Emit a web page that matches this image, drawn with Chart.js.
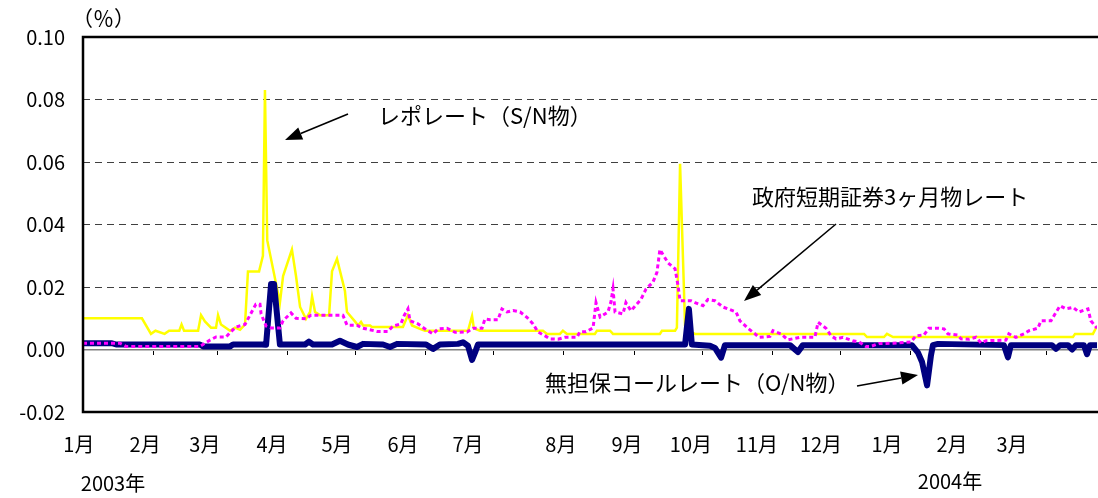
<!DOCTYPE html>
<html><head><meta charset="utf-8">
<script src="https://cdn.jsdelivr.net/npm/chart.js@4.4.1/dist/chart.umd.min.js"></script>
<style>html,body{margin:0;padding:0;background:#fff;}canvas{display:block;}</style>
</head><body>
<canvas id="c" width="1098" height="498"></canvas>
<script>
// ---- data (x = days since 2003-01-01, y = %) ----
const repoDays = [0,26,30,32,36,38,42.5,43.5,44.6,50.8,52.1,53.8,56.5,58.7,59.6,60.9,64.9,67.1,69.3,71.5,72.8,77.7,79.4,80.3,81.3,86.9,88.3,92.2,94.0,95.8,98.4,100.2,101.1,102.4,104.6,108.6,109.9,112.1,115.6,116.5,120.0,121.4,122.7,123.6,126.7,127.5,141.2,143.4,145.2,148.7,150.9,169.9,171.7,172.5,175.2,203.0,204.8,210.5,211.8,213.6,225.9,226.8,232.6,233.9,254.6,255.5,261.3,262.1,263.5,265.7,267.0,270.1,344.7,346.0,353.5,354.8,357.5,436.9,437.8,445.7,447.5];
const repoRate = [0.010,0.010,0.005,0.006,0.005,0.006,0.006,0.008,0.006,0.006,0.011,0.009,0.007,0.007,0.011,0.008,0.006,0.007,0.0063,0.008,0.025,0.025,0.030,0.083,0.035,0.015,0.0235,0.032,0.0235,0.0136,0.0098,0.012,0.017,0.012,0.011,0.011,0.025,0.029,0.0187,0.012,0.009,0.0077,0.0088,0.0077,0.0077,0.0072,0.0072,0.011,0.0077,0.0066,0.006,0.006,0.0107,0.0068,0.006,0.006,0.005,0.005,0.006,0.005,0.005,0.006,0.006,0.005,0.005,0.006,0.006,0.007,0.0594,0.0076,0.006,0.005,0.005,0.004,0.004,0.005,0.004,0.004,0.005,0.005,0.0075];

const callDays = [0,12.8,14.6,51.6,53,64.9,66.2,79,80.8,83,84.3,86.9,98,99.7,101.5,109.9,113.4,116.9,120.9,123.6,132.4,135.5,138.6,151.4,154.5,157.5,165.5,167.7,169.9,171.7,173,174.3,265.7,267.4,268.7,276.7,278.9,281.6,283.3,312,315.5,317.7,365.8,368.5,370.3,372.5,374.2,375.1,377.3,406.4,408.2,409.5,427.6,429.4,431.2,434.7,436.5,438.2,441.7,443.1,444.4,447.5];
const callRate = [0.002,0.002,0.0016,0.0016,0.001,0.001,0.0016,0.0016,0.0015,0.021,0.021,0.0016,0.0016,0.0025,0.0016,0.0016,0.0028,0.0016,0.0008,0.0018,0.0016,0.0008,0.0018,0.0016,0.0002,0.0016,0.0018,0.0023,0.0012,-0.0033,-0.001,0.0016,0.0016,0.013,0.0016,0.0012,0.0005,-0.0026,0.0014,0.0014,-0.0008,0.0014,0.0014,-0.001,-0.004,-0.0115,-0.002,0.0014,0.0018,0.0014,-0.0025,0.0014,0.0014,0.0002,0.0014,0.0014,0.0,0.0014,0.0014,-0.0015,0.0014,0.0014];

const fbDays = [0,16.3,19,51.6,56,58.7,63.1,65.3,67.5,71.5,73.7,76.3,78.1,78.6,80.8,83,86.9,88.3,91.8,94,98.4,100.6,114.7,116.5,120.9,123.1,129.7,134.6,136.8,140.3,141.7,143.4,144.3,147.8,150.9,154.5,156.7,160.6,164.2,169.5,172.1,176.1,177.4,179.6,183.1,184.9,187.1,189.8,192.9,195.9,198.6,200.8,204.3,206.1,209.6,212.7,218,219.3,222,225.1,226.4,228.2,231.7,233,233.9,234.8,238.3,239.6,241.8,244,246.2,248.5,251.5,253.3,254.6,258.2,261.3,262.6,263.5,268.3,270.1,273.6,275.8,278.9,282.4,284.6,288.2,289.9,293.4,296.6,298.3,303.2,304.5,308,311.1,316.4,323,324.4,327.9,330.1,332.3,335.4,339.8,342.5,345.5,347.7,351.3,357.5,365.4,367.6,371.1,373.3,377.7,380,381.7,386.1,387.5,391,394.1,396.3,398.5,407.3,408.6,411.7,415.3,417.5,421.4,422.8,427.2,429.4,431.2,433.8,436.9,439.5,443.5,444.8,447.5];
const fbRate = [0.002,0.002,0.001,0.001,0.003,0.004,0.004,0.0057,0.0072,0.008,0.011,0.0145,0.0145,0.0114,0.0075,0.0069,0.0069,0.0092,0.0117,0.010,0.0098,0.011,0.011,0.0078,0.0078,0.0069,0.0058,0.0058,0.0075,0.0082,0.0108,0.013,0.0092,0.0082,0.0066,0.005,0.0066,0.0068,0.0055,0.0056,0.0068,0.0068,0.0098,0.0095,0.0095,0.013,0.012,0.0125,0.012,0.0103,0.0082,0.0056,0.0042,0.0034,0.0033,0.0039,0.0039,0.0057,0.0057,0.0069,0.015,0.0104,0.012,0.0153,0.0194,0.012,0.0114,0.015,0.0124,0.0142,0.016,0.0194,0.0215,0.0247,0.032,0.0277,0.0258,0.0204,0.0156,0.0156,0.015,0.014,0.016,0.0156,0.0136,0.013,0.012,0.0092,0.0068,0.005,0.0039,0.0042,0.006,0.005,0.0031,0.0039,0.0039,0.0087,0.0068,0.0044,0.0034,0.0039,0.0028,0.0024,0.001,0.001,0.0019,0.002,0.0024,0.0044,0.0046,0.0068,0.0068,0.0066,0.005,0.0046,0.0034,0.0033,0.0039,0.0021,0.0028,0.003,0.005,0.0039,0.005,0.006,0.0068,0.0092,0.0092,0.0119,0.014,0.013,0.0135,0.012,0.013,0.0092,0.0068];

const monthLabels = ['1月','2月','3月','4月','5月','6月','7月','8月','9月','10月','11月','12月','1月','2月','3月'];
const monthTickDays = [0,31,59,90,120,151,181,212,243,273,304,334,365,396,425];
const yTicks = [-0.02,0,0.02,0.04,0.06,0.08,0.10];
const yearLabels = ['2003年','2004年'];
const seriesNames = ['政府短期証券3ヶ月物レート','無担保コールレート（O/N物）','レポレート（S/N物）'];

// ---- layout constants ----
const X_MAX = 447.5;
const monthLabelDays = [-1.8,27.4,53.8,83.4,112.1,141.2,169.9,210.9,240.1,268.3,297.4,325.7,354.8,383.5,410];
const FONT = '"Noto Sans CJK JP","Noto Sans",sans-serif';
Chart.defaults.font.family = FONT;
Chart.defaults.color = '#000';

const toPts = (d, v) => d.map((x, i) => ({x: x, y: v[i]}));

function arrow(ctx, x1, y1, x2, y2) {
  const ang = Math.atan2(y2 - y1, x2 - x1), L = 17, W = 6.5;
  const bx = x2 - L * Math.cos(ang), by = y2 - L * Math.sin(ang);
  ctx.beginPath(); ctx.moveTo(x1, y1); ctx.lineTo(bx, by); ctx.stroke();
  ctx.beginPath();
  ctx.moveTo(x2, y2);
  ctx.lineTo(bx + W * Math.sin(ang), by - W * Math.cos(ang));
  ctx.lineTo(bx - W * Math.sin(ang), by + W * Math.cos(ang));
  ctx.closePath(); ctx.fill();
}

const decor = {
  id: 'decor',
  afterDraw(chart) {
    const {ctx, chartArea: a} = chart;
    const xs = chart.scales.xz, ys = chart.scales.y;
    ctx.save();
    // month tick marks below the zero line
    const y0 = Math.round(ys.getPixelForValue(0));
    ctx.strokeStyle = '#000'; ctx.lineWidth = 1;
    monthTickDays.forEach(d => {
      const px = Math.round(xs.getPixelForValue(d)) + 0.5;
      ctx.beginPath(); ctx.moveTo(px, y0 + 1); ctx.lineTo(px, y0 + 5); ctx.stroke();
    });
    // frame
    ctx.strokeStyle = '#000'; ctx.lineWidth = 2.5;
    ctx.beginPath();
    ctx.moveTo(a.right + 2, a.top); ctx.lineTo(a.left, a.top);
    ctx.lineTo(a.left, a.bottom); ctx.lineTo(a.right + 2, a.bottom);
    ctx.stroke();
    ctx.fillStyle = '#000';
    ctx.textBaseline = 'middle';
    ctx.textAlign = 'left';
    ctx.font = '21px ' + FONT;
    ctx.fillText('（％）', 72, 18);
    ctx.font = '22px ' + FONT;
    ctx.fillText(seriesNames[2], 378, 116);
    ctx.fillText(seriesNames[0], 752, 197);
    ctx.fillText(seriesNames[1], 545, 383);
    ctx.font = '20px ' + FONT;
    ctx.textAlign = 'center';
    ctx.fillText(yearLabels[0], 113, 483);
    ctx.fillText(yearLabels[1], 950, 481);
    ctx.lineWidth = 1.6;
    arrow(ctx, 348, 114, 285, 140);
    arrow(ctx, 836, 224, 744, 301);
    arrow(ctx, 857, 386, 918, 375);
    ctx.restore();
  }
};

new Chart(document.getElementById('c'), {
  type: 'line',
  data: {
    datasets: [
      {label: seriesNames[0], data: toPts(fbDays, fbRate), borderColor: '#FF00FF', borderWidth: 3, borderDash: [4, 3], pointRadius: 0, tension: 0},
      {label: seriesNames[1], data: toPts(callDays, callRate), borderColor: '#000080', borderWidth: 6, pointRadius: 0, tension: 0, borderJoinStyle: 'round', borderCapStyle: 'round'},
      {label: seriesNames[2], data: toPts(repoDays, repoRate), borderColor: '#FFFF00', borderWidth: 2.5, pointRadius: 0, tension: 0}
    ]
  },
  options: {
    responsive: false,
    animation: false,
    layout: {padding: {top: 37, right: 1, left: 0, bottom: 0}},
    plugins: {legend: {display: false}, tooltip: {enabled: false}},
    scales: {
      x: {
        type: 'linear', min: 0, max: X_MAX, position: 'bottom',
        grid: {display: false, drawTicks: false}, border: {display: false},
        afterBuildTicks: s => { s.ticks = monthLabelDays.map(v => ({value: v})); },
        afterFit: s => { s.height = 86; },
        ticks: {autoSkip: false, maxRotation: 0, padding: 20, font: {size: 20}, color: '#000',
          callback: (v, i) => monthLabels[i]}
      },
      xz: {
        type: 'linear', min: 0, max: X_MAX, position: {y: 0},
        grid: {display: false, drawTicks: false},
        border: {display: true, color: '#808080', width: 1.5},
        ticks: {display: false},
        afterBuildTicks: s => { s.ticks = monthTickDays.map(v => ({value: v})); }
      },
      y: {
        type: 'linear', min: -0.02, max: 0.10, position: 'left',
        afterBuildTicks: s => { s.ticks = yTicks.map(v => ({value: v})); },
        afterFit: s => { s.width = 83; },
        grid: {color: c => (c.index >= 2 && c.index <= 5) ? '#404040' : 'rgba(0,0,0,0)', drawTicks: false, lineWidth: 1},
        border: {display: false, dash: [7, 5]},
        ticks: {padding: 18, font: {size: 20}, color: '#000', callback: v => v.toFixed(2)}
      }
    }
  },
  plugins: [decor]
});
</script>
</body></html>
